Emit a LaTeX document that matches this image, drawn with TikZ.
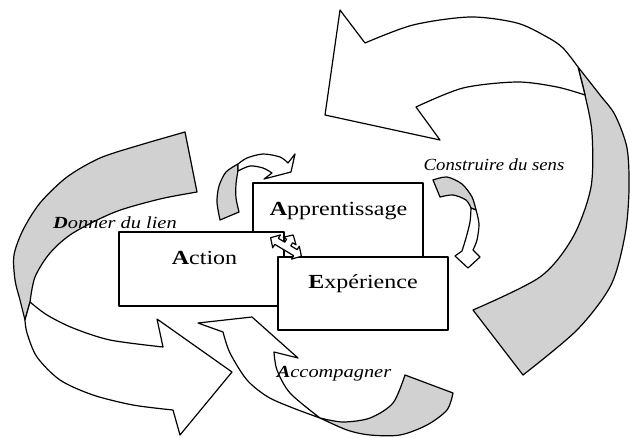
\documentclass[tikz,border=0pt]{standalone}
\usepackage{fontspec}
\setmainfont{Liberation Serif}
\usepackage{tikz}
\definecolor{shade}{gray}{0.82}
\newcommand{\wide}[1]{\scalebox{1.2}[1]{#1}}

\begin{document}
\begin{tikzpicture}[x=1pt, y=-1pt, line join=round,
	band/.style={draw, line width=1.2pt, fill=white},
	back/.style={draw, line width=1.2pt, fill=shade},
	box/.style={draw, line width=1.2pt, fill=white, rectangle, inner sep=0pt},
	word/.style={font=\fontsize{20}{24}\selectfont, anchor=base},
	lbl/.style={font=\fontsize{17}{20}\selectfont\itshape, anchor=base}]
\useasboundingbox (0,0) rectangle (630,437);
% big arrows
\draw[back] plot[smooth] coordinates {(578,67) (600,95) (615,115) (627,148) (629,190) (625,235) (611,285) (577,330) (523,375)} -- (473,310) -- plot[smooth] coordinates {(473,310) (540,277) (573,237) (591,187) (592,133) (585,95) (578,67)} -- cycle; % Sens.back
\draw[band] plot[smooth] coordinates {(578,67) (563,48) (547,37) (517,23) (470,17) (413,25) (365,43)} -- (340,10) -- (325,115) -- (440,140) -- (416,107) -- plot[smooth] coordinates {(416,107) (463,88) (517,82) (557,87) (585,95)} -- cycle; % Sens.front
\draw[back] plot[smooth] coordinates {(185,132) (140,145) (100,158) (67,177) (40,203) (23,230) (14,255) (15,280) (20,300) (25,320)} -- (30,302) -- plot[smooth] coordinates {(30,302) (35,277) (50,253) (73,233) (115,212) (160,199) (197,192)} -- cycle; % Lien.back
\draw[band] plot[smooth] coordinates {(30,302) (47,315) (73,328) (110,340) (163,347)} -- (157,319) -- (232,372) -- (180,435) -- (173,410) -- plot[smooth] coordinates {(173,410) (133,405) (93,395) (60,380) (37,357) (27,333) (25,320)} -- cycle; % Lien.front
\draw[back] plot[smooth] coordinates {(320,418) (343,422) (370,418) (393,403) (405,375)} -- (453,393) -- plot[smooth] coordinates {(453,393) (447,410) (427,425) (400,435) (370,435) (347,430) (320,418)} -- cycle; % Accomp.back
\draw[band] (198,323) -- (252,317) -- (298,358) -- (274,352) -- plot[smooth] coordinates {(274,352) (277,370) (290,393) (320,418)} -- plot[smooth] coordinates {(320,418) (293,408) (268,397) (247,380) (230,353) (223,332)} -- cycle; % Accomp.front
% small arrows
\draw[back] plot[smooth] coordinates {(238,164) (226,172) (219,186) (217,202) (220,220)} -- (239,212) -- plot[smooth] coordinates {(239,212) (236,198) (236,184) (238,170) (238,164)} -- cycle; % Small.0
\draw[band] plot[smooth] coordinates {(238,164) (247,158) (263,154) (280,157) (288,163)} -- (295,154) -- (291,172) -- (264,179) -- (272,173) -- plot[smooth] coordinates {(272,173) (263,168) (250,166) (238,171)} -- cycle; % Small.0
\draw[back] plot[smooth] coordinates {(433,180) (447,177) (462,184) (472,197) (476,210)} -- (471,208) -- plot[smooth] coordinates {(471,208) (466,200) (453,195) (440,197)} -- cycle; % Small.1
\draw[band] plot[smooth] coordinates {(476,210) (479,224) (477,240) (473,250)} -- (480,257) -- (468,268) -- (455,256) -- (462,251) -- plot[smooth] coordinates {(462,251) (466,238) (470,222) (471,208)} -- cycle; % Small.1
% boxes
\node[box, minimum width=170pt, minimum height=79pt] (apprentissage) at (338,222.5) {};
\node[box, minimum width=165pt, minimum height=74pt] (action) at (201.5,269) {};
\node[box, minimum width=170pt, minimum height=73pt] (experience) at (363,293.5) {};
\node[word] (apprentissageText) at (338.5,215) {\wide{\textbf{A}pprentissage}};
\node[word] (actionText) at (204.5,264) {\wide{\textbf{A}ction}};
\node[word] (experienceText) at (363,288) {\wide{\textbf{E}xpérience}};
% three way arrow
\begin{scope}[shift={(286,247)}, rotate=-31]
\draw[band] (-18,0) -- (-11,-7.5) -- (-11,-3.5) -- (-3.5,-3.5) -- (-3.5,-7) -- (-7.5,-7) -- (0,-14) -- (7.5,-7) -- (3.5,-7) -- (3.5,-3.5) -- (11,-3.5) -- (11,-7.5) -- (18,0) -- (11,7.5) -- (11,3.5) -- (-11,3.5) -- (-11,7.5) -- cycle; % Link
\end{scope}
% labels
\node[lbl] (sens) at (494,170) {\scalebox{1.1}[1]{Construire du sens}};
\node[lbl] (lien) at (115,228) {\wide{\textbf{D}onner du lien}};
\node[lbl] (accomp) at (334,377) {\wide{\textbf{A}ccompagner}};
\end{tikzpicture}
\end{document}
